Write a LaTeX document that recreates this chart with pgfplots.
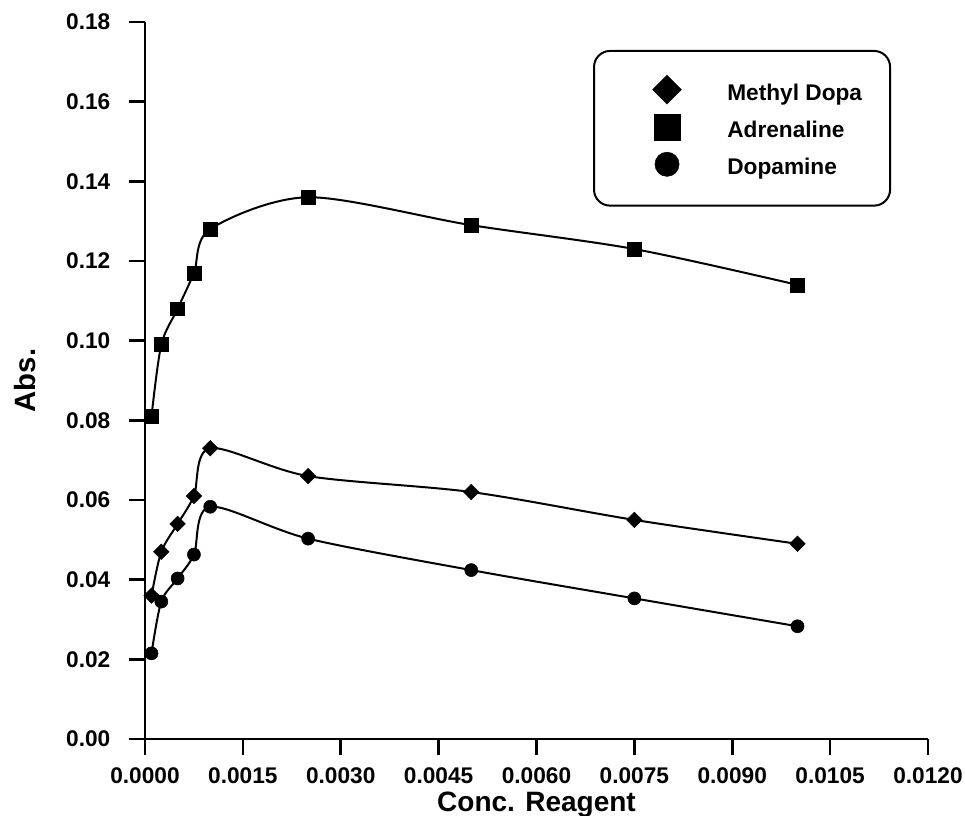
\documentclass[border=0pt]{standalone}
\usepackage{fontspec}
\setmainfont{Liberation Sans}
\usepackage{pgfplots}
\pgfplotsset{compat=1.18}
\usepackage{pgfplotstable}

% conc. reagent vs absorbance
\pgfplotstableread{
x y
0.0001 0.036
0.00025 0.047
0.0005 0.054
0.00075 0.061
0.001 0.073
0.0025 0.066
0.005 0.062
0.0075 0.055
0.01 0.049
}\methyldopa

\pgfplotstableread{
x y
0.0001 0.081
0.00025 0.099
0.0005 0.108
0.00075 0.117
0.001 0.128
0.0025 0.136
0.005 0.129
0.0075 0.123
0.01 0.114
}\adrenaline

\pgfplotstableread{
x y
0.0001 0.0215
0.00025 0.0345
0.0005 0.0403
0.00075 0.0463
0.001 0.0583
0.0025 0.0503
0.005 0.0424
0.0075 0.0353
0.01 0.0283
}\dopamine

\begin{document}
\begin{tikzpicture}
\useasboundingbox (-108.75pt,-57.75pt) rectangle (615pt,554.25pt);
\begin{axis}[
    at={(0,0)}, anchor=south west,
    scale only axis,
    width=587.25pt, height=537.75pt,
    xmin=0, xmax=0.012,
    ymin=0, ymax=0.18,
    axis x line*=bottom, axis y line*=left,
    axis line style={line width=2pt},
    xtick={0,0.0015,0.003,0.0045,0.006,0.0075,0.009,0.0105,0.012},
    ytick={0,0.02,0.04,0.06,0.08,0.10,0.12,0.14,0.16,0.18},
    tick align=outside,
    major tick length=12pt,
    tick style={line width=2pt, black},
    scaled x ticks=false, scaled y ticks=false,
    xticklabel style={yshift=-6pt, /pgf/number format/.cd, fixed, fixed zerofill, precision=4, assume math mode=true},
    yticklabel style={xshift=-10.5pt, /pgf/number format/.cd, fixed, fixed zerofill, precision=2, assume math mode=true},
    ticklabel style={font=\fontsize{17}{20}\selectfont\bfseries},
    xlabel={Conc. Reagent}, ylabel={Abs.},
    xlabel style={font=\fontsize{21}{24}\selectfont\bfseries, at={(axis description cs:0.5,0)}, anchor=center, yshift=-49pt},
    ylabel style={font=\fontsize{22}{25}\selectfont\bfseries, at={(axis description cs:-0.1533,0.5)}, anchor=center},
    every axis plot/.append style={black, line width=1.5pt, smooth, tension=0.5},
    legend cell align=left,
    legend image code/.code={
        \path (-33pt,0pt) (8pt,0pt);
        \draw[#1, sharp corners, every mark/.append style={scale=1.85}] plot coordinates {(0pt,1pt)};
    },
    legend style={
        at={(0.5722,0.961)}, anchor=north west,
        draw=black, line width=1.5pt, rounded corners=12pt,
        inner xsep=21pt, inner ysep=16pt,
        row sep=0pt, column sep=34.5pt,
        font=\fontsize{17}{20}\selectfont\bfseries,
        nodes={inner sep=0pt, text height=21pt, text depth=7pt},
    },
]
\addplot[mark=square*, mark size=4.1pt, mark options={rotate=45, line width=0.4pt, sharp corners}] table {\methyldopa};
\addlegendentry{Methyl Dopa}
\addplot[mark=square*, mark size=5.2pt, mark options={line width=0.4pt, sharp corners}] table {\adrenaline};
\addlegendentry{Adrenaline}
\addplot[mark=*, mark size=4.9pt, mark options={line width=0.4pt}] table {\dopamine};
\addlegendentry{Dopamine}
\end{axis}
\end{tikzpicture}
\end{document}
